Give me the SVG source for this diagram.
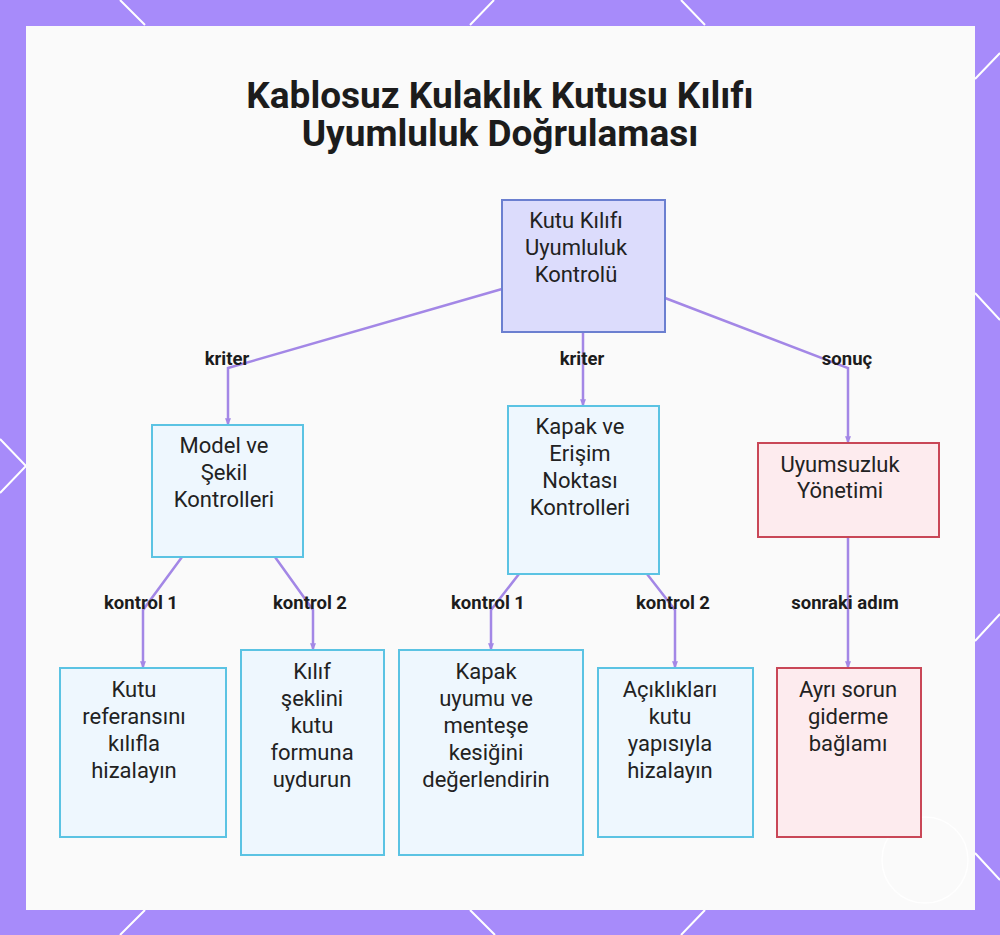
<svg xmlns="http://www.w3.org/2000/svg" width="1000" height="935" viewBox="0 0 1000 935">
<defs>
<style>
.bg{fill:#a78bfa}
.hex{stroke:#ffffff;stroke-width:2;fill:none}
.panel{fill:#fafafa}
.n-root{fill:#dcdcfc;stroke:#6b7fd0;stroke-width:2}
.n-blue{fill:#eef7fe;stroke:#5bc3e3;stroke-width:2}
.n-red{fill:#fdebee;stroke:#c94757;stroke-width:2}
.nt{font-family:Roboto,"Liberation Sans",sans-serif;font-size:22px;fill:#222222;text-anchor:middle}
.title{font-family:Roboto,"Liberation Sans",sans-serif;font-size:37px;font-weight:700;fill:#1c1c1c;text-anchor:middle}
.lbl{font-family:Roboto,"Liberation Sans",sans-serif;font-size:18.5px;font-weight:700;fill:#1c1c1c;text-anchor:middle}
.edge{stroke:#a387e6;stroke-width:2.5;fill:none;marker-end:url(#arr)}
</style>
<marker id="arr" viewBox="0 0 10 10" refX="9" refY="5" markerWidth="3" markerHeight="3" orient="auto">
<path d="M0,1 L10,5 L0,9 z" fill="#a387e6"/>
</marker>
</defs>
<rect class="bg" x="0" y="0" width="1000" height="935"/>
<g id="pattern">
<path class="hex" d="M120,0 L145,25 M494,0 L470,25 M681,0 L705,25"/>
<path class="hex" d="M1000,53 L975,79 M975,293 L1000,320 M975,641 L1000,614 M975,853 L1000,880"/>
<path class="hex" d="M0,439 L26,466 L0,493"/>
<path class="hex" d="M145,910 L120,935 M470,910 L495,935 M705,910 L681,935"/>
</g>
<rect class="panel" x="26" y="26" width="949" height="884"/>
<circle cx="925" cy="860" r="43" fill="none" stroke="#ffffff" stroke-width="1.5" opacity="0.9"/>
<g id="title">
<text class="title" x="500" y="108">Kablosuz Kulaklık Kutusu Kılıfı</text>
<text class="title" x="500" y="146">Uyumluluk Doğrulaması</text>
</g>
<g id="connectors">
<path class="edge" d="M502,289 L228,368 L228,425"/>
<path class="edge" d="M583,332 L583,406"/>
<path class="edge" d="M665,298 L848,368 L848,443"/>
<path class="edge" d="M182,557 L143,610 L143,668"/>
<path class="edge" d="M275,557 L313,610 L313,650"/>
<path class="edge" d="M519,574 L491,610 L491,650"/>
<path class="edge" d="M647,574 L675,610 L675,668"/>
<path class="edge" d="M848,537 L848,668"/>
<text class="lbl" x="227" y="365">kriter</text>
<text class="lbl" x="582" y="365">kriter</text>
<text class="lbl" x="847" y="365">sonuç</text>
<text class="lbl" x="141" y="609">kontrol 1</text>
<text class="lbl" x="310" y="609">kontrol 2</text>
<text class="lbl" x="488" y="609">kontrol 1</text>
<text class="lbl" x="673" y="609">kontrol 2</text>
<text class="lbl" x="845" y="609">sonraki adım</text>
</g>
<g id="node-root">
<rect class="n-root" x="502" y="200" width="163" height="132"/>
<text class="nt" x="576" y="228">Kutu Kılıfı</text>
<text class="nt" x="576" y="255">Uyumluluk</text>
<text class="nt" x="576" y="282">Kontrolü</text>
</g>
<g id="node-model">
<rect class="n-blue" x="152" y="425" width="151" height="132"/>
<text class="nt" x="224" y="453">Model ve</text>
<text class="nt" x="224" y="480">Şekil</text>
<text class="nt" x="224" y="507">Kontrolleri</text>
</g>
<g id="node-kapak">
<rect class="n-blue" x="508" y="406" width="151" height="168"/>
<text class="nt" x="580" y="434">Kapak ve</text>
<text class="nt" x="580" y="461">Erişim</text>
<text class="nt" x="580" y="488">Noktası</text>
<text class="nt" x="580" y="515">Kontrolleri</text>
</g>
<g id="node-uyumsuzluk">
<rect class="n-red" x="758" y="443" width="181" height="94"/>
<text class="nt" x="840" y="472">Uyumsuzluk</text>
<text class="nt" x="840" y="498">Yönetimi</text>
</g>
<g id="node-ref">
<rect class="n-blue" x="60" y="668" width="166" height="169"/>
<text class="nt" x="134" y="697">Kutu</text>
<text class="nt" x="134" y="724">referansını</text>
<text class="nt" x="134" y="751">kılıfla</text>
<text class="nt" x="134" y="778">hizalayın</text>
</g>
<g id="node-kilif">
<rect class="n-blue" x="241" y="650" width="143" height="205"/>
<text class="nt" x="312" y="679">Kılıf</text>
<text class="nt" x="312" y="706">şeklini</text>
<text class="nt" x="312" y="733">kutu</text>
<text class="nt" x="312" y="760">formuna</text>
<text class="nt" x="312" y="787">uydurun</text>
</g>
<g id="node-kapak-uyumu">
<rect class="n-blue" x="399" y="650" width="184" height="205"/>
<text class="nt" x="486" y="679">Kapak</text>
<text class="nt" x="486" y="706">uyumu ve</text>
<text class="nt" x="486" y="733">menteşe</text>
<text class="nt" x="486" y="760">kesiğini</text>
<text class="nt" x="486" y="787">değerlendirin</text>
</g>
<g id="node-aciklik">
<rect class="n-blue" x="598" y="668" width="155" height="169"/>
<text class="nt" x="670" y="697">Açıklıkları</text>
<text class="nt" x="670" y="724">kutu</text>
<text class="nt" x="670" y="751">yapısıyla</text>
<text class="nt" x="670" y="778">hizalayın</text>
</g>
<g id="node-ayri">
<rect class="n-red" x="777" y="668" width="144" height="169"/>
<text class="nt" x="848" y="697">Ayrı sorun</text>
<text class="nt" x="848" y="724">giderme</text>
<text class="nt" x="848" y="751">bağlamı</text>
</g>
</svg>
